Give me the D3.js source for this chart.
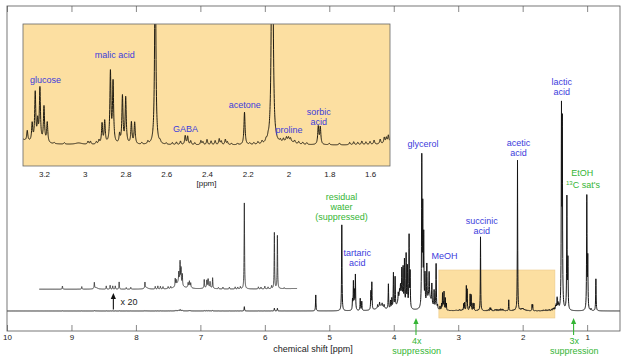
<!DOCTYPE html>
<html lang="en">
<head>
<meta charset="UTF-8">
<title>1H NMR spectrum</title>
<script src="https://d3js.org/d3.v7.min.js"></script>
<style>
  body, html { margin: 0; padding: 0; background: #fff; overflow: hidden; }
  svg { display: block; font-family: "Liberation Sans", Arial, Helvetica, sans-serif; }
</style>
</head>
<body>
<svg width="624" height="357"></svg>
<script>
// peaks: [ppm, height] (height in arbitrary units)
const aromaticPeaks = [[9.14,0.16],[8.84,0.13],[8.645,0.3],[8.46,0.16],[8.40,0.19],[8.36,0.16],[8.32,0.16],[8.26,0.36],
  [8.15,0.08],[8.08,0.09],[7.86,0.3],[7.70,0.13],[7.66,0.15],[7.62,0.13],[7.58,0.11],[7.50,0.1],[7.46,0.09],
  [7.39,0.38],[7.375,0.25],[7.335,0.45],[7.315,1.0],[7.30,0.75],[7.28,0.55],[7.19,0.2],[7.17,0.25],[7.15,0.2],
  [6.94,0.42],[6.90,0.33],[6.88,0.38],[6.85,0.28],[6.81,0.52],[6.72,0.07],[6.65,0.09],[6.55,0.09],[6.46,0.1],
  [6.42,0.09],[6.38,0.11],[6.318,4.3],[6.10,0.1],[6.06,0.09],[6.00,0.13],[5.95,0.09],[5.895,0.14],
  [5.852,2.8],[5.805,2.65],[5.70,0.05]];
const midPeaks = [[5.21,16],[4.806,86],[4.64,10],[4.626,28],[4.61,18],[4.595,35],[4.52,12],[4.496,9],[4.355,18],
  [4.34,27],[4.25,3],[4.22,4],[4.18,3],[4.15,3],[4.083,25],[4.05,8],[4.03,10],[4.005,35],[3.979,30],[3.93,8],
  [3.91,6],[3.895,10],[3.875,30],[3.855,35],[3.834,45],[3.808,52],[3.788,40],[3.762,72],[3.746,35],
  [3.565,148],[3.55,95],[3.535,68],[3.515,30],[3.487,38],[3.451,24],[3.409,20],[3.374,17],[3.343,45],[3.32,4]];
const zoomPeaks = [[3.282,3.5],[3.258,6],[3.243,16.5],[3.231,6.5],[3.220,18],[3.200,12],[3.184,6.8],[3.15,0.4],
  [3.10,0.5],[2.984,1.0],[2.972,1.0],[2.943,0.8],[2.93,1.3],[2.915,6.8],[2.902,7.6],[2.874,24],[2.861,20.5],
  [2.829,3.0],[2.815,16],[2.799,15.5],[2.771,7.3],[2.755,7.3],[2.72,0.6],[2.69,0.9],[2.654,74],[2.63,0.8],
  [2.60,0.5],[2.57,0.7],[2.55,0.9],[2.53,1.2],[2.507,3.0],[2.495,2.8],[2.48,1.3],[2.46,0.7],[2.43,1.4],
  [2.42,1.0],[2.40,1.8],[2.38,1.3],[2.36,1.4],[2.34,2.0],[2.33,1.2],[2.31,1.8],[2.30,1.0],[2.28,0.5],
  [2.25,0.5],[2.216,11],[2.19,0.5],[2.17,0.6],[2.15,0.8],[2.13,0.9],[2.11,0.9],[2.10,0.8],[2.080,150],
  [2.073,3],[2.04,0.8],[2.025,1.1],[2.01,1.3],[2.00,1.2],[1.99,1.1],[1.97,0.9],[1.95,0.8],[1.93,0.7],
  [1.91,0.6],[1.854,6],[1.844,5.8],[1.80,0.5],[1.75,0.6],[1.70,0.8],[1.68,1.0],[1.66,0.8],[1.64,1.2],
  [1.62,0.9],[1.60,1.0],[1.58,1.4],[1.55,1.6],[1.53,2.0],[1.52,1.8],[1.51,2.4]];
const aliphaticPeaks = [[1.49,4],[1.48,5],[1.465,12],[1.45,6],[1.44,4],[1.398,194],[1.385,180],[1.314,112],
  [1.298,48],[1.005,113],[0.99,50],[0.94,2],[0.864,32]];
// broad baseline humps: [ppm, height, half width]
const humps = [[8.62,0.08,0.03],[7.84,0.08,0.03],[7.33,0.4,0.045],[7.17,0.12,0.03],[6.88,0.12,0.05],
  [4.2,5,0.06],[3.9,15,0.04],[3.45,14,0.04],[3.03,0.5,0.02],[2.0,1.2,0.03]];

const mainTicks = [10, 9, 8, 7, 6, 5, 4, 3, 2, 1];
const insetTicks = [3.2, 3, 2.8, 2.6, 2.4, 2.2, 2, 1.8, 1.6];

// metabolite labels: [text lines, ppm, y]
const insetLabels = [[["glucose"], 3.192, 80], [["malic acid"], 2.853, 55], [["GABA"], 2.506, 129],
  [["acetone"], 2.215, 105], [["proline"], 1.997, 130], [["sorbic", "acid"], 1.852, 112]];
const mainLabels = [[["glycerol"], 3.548, 144], [["acetic", "acid"], 2.065, 143], [["lactic", "acid"], 1.395, 81.5],
  [["tartaric", "acid"], 4.567, 253], [["MeOH"], 3.211, 256], [["succinic", "acid"], 2.636, 221]];
const greenLabels = [[["residual", "water", "(suppressed)"], 4.809, 196.5], [["4x", "suppression"], 3.645, 341],
  [["3x", "suppression"], 1.201, 341]];

const blue = "#3c3cdc", green = "#34b534", gold = "#fcdfa1";

const svg = d3.select("svg");

const x = d3.scaleLinear().domain([10, 0.49]).range([7, 620]);
const yMain = d3.scaleLinear().domain([-20, 305]).range([331, 6]);
const yX20 = d3.scaleLinear().domain([0, 1]).range([289.3, 269.3]);
const xIn = d3.scaleLinear().domain([3.303, 1.502]).range([23, 390]);
const yIn = d3.scaleLinear().domain([-7, 41]).range([166, 24]);

// line shape built from the peak list
const peaks = [
  ...aromaticPeaks.map(p => [p[0], p[1], 0.004]),
  ...midPeaks.map(p => [p[0], p[1], 0.004]),
  ...zoomPeaks.map(p => [p[0], p[1], 0.0032]),
  ...aliphaticPeaks.map(p => [p[0], p[1], 0.004]),
  ...humps
];
function intensity(ppm) {
  let s = 0;
  for (const [c, h, w] of peaks) {
    const d = (ppm - c) / w;
    s += h / (1 + d * d);
  }
  return s;
}
function sample(lo, hi, step) {
  const pts = d3.range(lo, hi, step);
  pts.push(hi);
  peaks.forEach(p => { if (p[0] > lo && p[0] < hi) pts.push(p[0]); });
  pts.sort((a, b) => a - b);
  return pts.map(p => [p, intensity(p)]);
}

svg.append("defs").append("clipPath").attr("id", "clipMain")
  .append("rect").attr("x", 7).attr("y", 6).attr("width", 613).attr("height", 325);
svg.select("defs").append("clipPath").attr("id", "clipIn")
  .append("rect").attr("x", 23).attr("y", 24).attr("width", 367).attr("height", 142);

// highlighted region
svg.append("rect")
  .attr("x", x(3.3)).attr("y", yMain(41))
  .attr("width", x(1.5) - x(3.3)).attr("height", yMain(-7) - yMain(41))
  .attr("fill", gold).attr("stroke", "#ecc98a").attr("stroke-width", 0.6);

const gMain = svg.append("g").attr("clip-path", "url(#clipMain)");
gMain.append("path")
  .datum(sample(0.49, 10, 0.002))
  .attr("fill", "none").attr("stroke", "#141414").attr("stroke-width", 1).attr("stroke-linejoin", "round")
  .attr("d", d3.line().x(d => x(d[0])).y(d => yMain(d[1])));
gMain.append("path")
  .datum(sample(5.5, 9.5, 0.001))
  .attr("fill", "none").attr("stroke", "#2a2a2a").attr("stroke-width", 0.85).attr("stroke-linejoin", "round")
  .attr("d", d3.line().x(d => x(d[0])).y(d => yX20(d[1])));

// axes
const axB = svg.append("g").attr("transform", "translate(0,331)")
  .call(d3.axisBottom(x).tickValues(mainTicks).tickSizeInner(-6).tickSizeOuter(0).tickPadding(3));
const axT = svg.append("g").attr("transform", "translate(0,6)")
  .call(d3.axisTop(x).tickValues(mainTicks).tickSizeInner(-6).tickSizeOuter(0).tickFormat(""));
[axB, axT].forEach(a => {
  a.select(".domain").remove();
  a.selectAll("line").attr("stroke", "#555").attr("stroke-width", 0.7);
  a.selectAll("text").attr("font-size", 8).attr("fill", "#222").attr("font-family", null);
});
svg.append("rect").attr("x", 7).attr("y", 6).attr("width", 613).attr("height", 325)
  .attr("fill", "none").attr("stroke", "#555").attr("stroke-width", 0.8);
svg.append("text").attr("x", 313).attr("y", 352).attr("text-anchor", "middle")
  .attr("font-size", 9).attr("fill", "#222").text("chemical shift [ppm]");

// annotation text helper
function label(lines, cx, cy, color) {
  const t = svg.append("text").attr("text-anchor", "middle").attr("font-size", 9).attr("fill", color);
  lines.forEach((s, i) => t.append("tspan").attr("x", cx).attr("y", cy + i * 10 + 3.2).text(s));
}
function arrow(cx, tip, tail, color) {
  svg.append("line").attr("x1", cx).attr("x2", cx).attr("y1", tail).attr("y2", tip + 4)
    .attr("stroke", color).attr("stroke-width", 1.1);
  svg.append("path").attr("d", `M${cx},${tip}L${cx - 2.6},${tip + 6}L${cx + 2.6},${tip + 6}Z`).attr("fill", color);
}

mainLabels.forEach(([l, p, yy]) => label(l, x(p), yy, blue));
greenLabels.forEach(([l, p, yy]) => label(l, x(p), yy, green));
svg.append("text").attr("x", x(1.077)).attr("y", 172.3 + 3.2).attr("text-anchor", "middle")
  .attr("font-size", 9).attr("fill", green).text("EtOH");
const sat = svg.append("text").attr("x", x(1.065)).attr("y", 185 + 3.2).attr("text-anchor", "middle")
  .attr("font-size", 9).attr("fill", green);
sat.append("tspan").attr("font-size", 6).attr("dy", -3.5).text("13");
sat.append("tspan").attr("dy", 3.5).text("C sat's");

arrow(x(3.655), 318, 335, green);
arrow(x(1.21), 318, 335, green);
arrow(x(8.35), 293, 309.5, "#111");
svg.append("text").attr("x", 120.5).attr("y", 304.8).attr("font-size", 9).attr("fill", "#222").text("x 20");

// inset zoom of the highlighted region
svg.append("rect").attr("x", 23).attr("y", 24).attr("width", 367).attr("height", 142).attr("fill", gold);
svg.append("g").attr("clip-path", "url(#clipIn)").append("path")
  .datum(sample(1.49, 3.31, 0.0005))
  .attr("fill", "none").attr("stroke", "#1e1a10").attr("stroke-width", 1).attr("stroke-linejoin", "round")
  .attr("d", d3.line().x(d => xIn(d[0])).y(d => yIn(d[1])));
svg.append("rect").attr("x", 23).attr("y", 24).attr("width", 367).attr("height", 142)
  .attr("fill", "none").attr("stroke", "#666").attr("stroke-width", 0.8);
const axIn = svg.append("g").attr("transform", "translate(0,166)")
  .call(d3.axisBottom(xIn).tickValues(insetTicks).tickSize(0).tickPadding(5.8).tickFormat(d3.format("~g")));
axIn.select(".domain").remove();
axIn.selectAll("text").attr("font-size", 8).attr("fill", "#222").attr("font-family", null);
svg.append("text").attr("x", 206.5).attr("y", 186).attr("text-anchor", "middle")
  .attr("font-size", 8).attr("fill", "#222").text("[ppm]");
insetLabels.forEach(([l, p, yy]) => label(l, xIn(p), yy, blue));
</script>
</body>
</html>
